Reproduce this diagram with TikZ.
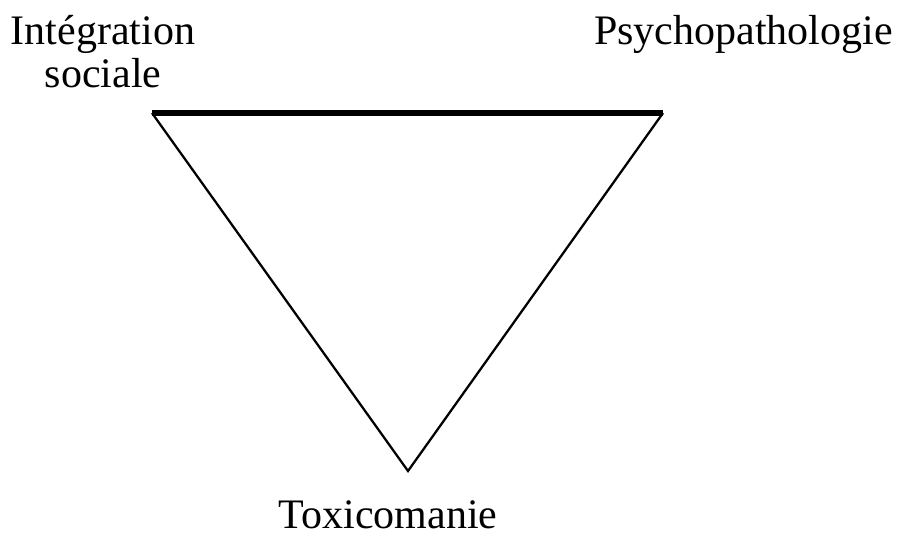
\documentclass[tikz,border=0pt]{standalone}
\usepackage{fontspec}
\setmainfont{Liberation Serif}
\usepackage{tikz}
\usetikzlibrary{positioning}
\tikzset{
  lbl/.style={inner sep=0pt,align=center,font=\fontsize{31.5}{32.25}\selectfont},
  edge/.style={line width=1.7pt},
  topedge/.style={line width=3.8pt}
}

\begin{document}
\begin{tikzpicture}[x=0.75pt,y=-0.75pt]
\useasboundingbox (0,0) rectangle (898,538);
\coordinate (integ) at (152,113);
\coordinate (psy) at (663,113);
\coordinate (toxi) at (408,471);
\node[lbl,anchor=base] (integlbl) at (103,88) {Intégration\\sociale};
\node[lbl,anchor=base east] (psylbl) at (893,45) {Psychopathologie};
\node[lbl,anchor=base] (toxilbl) at (388,528) {Toxicomanie};
\draw[topedge] (integ) -- (psy);
\draw[edge] (psy) -- (toxi) -- (integ);
\end{tikzpicture}
\end{document}
